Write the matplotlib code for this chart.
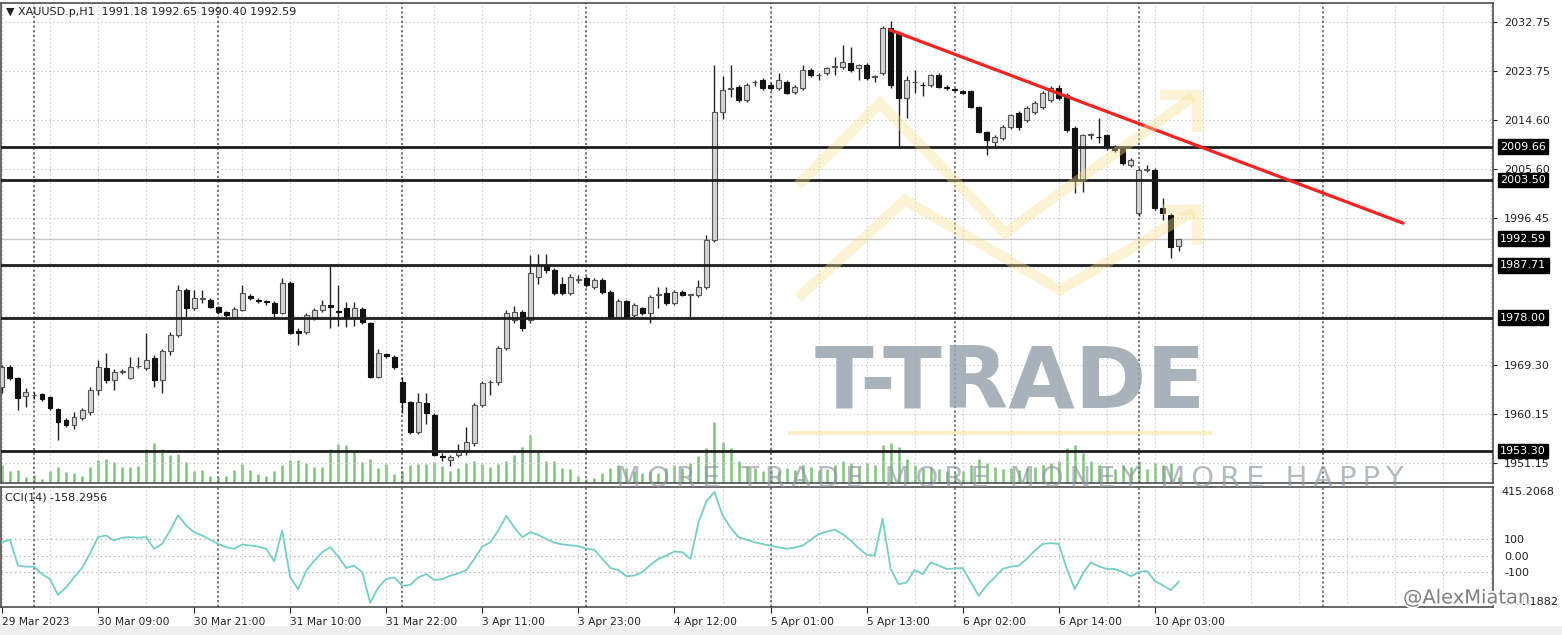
import numpy as np
import matplotlib
matplotlib.use("Agg")
import matplotlib.pyplot as plt
from matplotlib.lines import Line2D
from matplotlib.patches import Rectangle
from matplotlib.transforms import blended_transform_factory
import matplotlib.patheffects as pe

# ---------------- data ----------------
opens = [1965.2, 1968.9, 1966.8, 1963.4, 1963.6, 1963.9, 1963.3, 1961.1, 1959.0, 1958.1,
         1959.4, 1960.5, 1964.6, 1968.7, 1966.5, 1968.0, 1966.9, 1969.0, 1968.7, 1970.5,
         1966.5, 1971.9, 1974.8, 1983.1, 1979.8, 1981.5, 1981.3, 1980.0, 1979.0, 1978.2,
         1979.4, 1982.0, 1981.2, 1981.0, 1980.7, 1978.9, 1984.4, 1975.6, 1975.3, 1978.0,
         1979.4, 1980.3, 1979.2, 1979.8, 1978.1, 1979.6, 1977.0, 1967.0, 1971.2, 1970.7,
         1966.1, 1962.4, 1956.8, 1962.2, 1960.0, 1952.4, 1951.6, 1952.6, 1953.3, 1954.8,
         1961.8, 1966.0, 1966.0, 1972.4, 1977.6, 1979.0, 1977.6, 1985.5, 1987.7, 1986.8,
         1984.2, 1982.6, 1985.0, 1985.3, 1983.7, 1985.0, 1982.8, 1978.2, 1981.0, 1978.5,
         1979.8, 1978.9, 1982.2, 1982.6, 1980.7, 1982.8, 1982.2, 1982.2, 1983.7, 1992.4,
         2016.1, 2020.4, 2020.7, 2018.3, 2021.6, 2022.0, 2021.1, 2020.5, 2021.6, 2019.8,
         2020.5, 2023.9, 2022.9, 2023.3, 2024.4, 2024.4, 2025.2, 2024.2, 2024.8, 2022.6,
         2023.3, 2031.6, 2030.7, 2018.7, 2021.6, 2021.1, 2021.1, 2022.9, 2020.7, 2020.3,
         2020.0, 2020.0, 2017.0, 2012.4, 2010.5, 2011.3, 2013.3, 2015.9, 2014.6, 2016.1,
         2017.0, 2018.3, 2020.5, 2019.2, 2013.1, 2003.5, 2011.8, 2011.5, 2011.8, 2009.6,
         2009.4, 2006.3, 1997.4, 2005.4, 2005.4, 1998.3, 1997.0, 1991.18]
highs = [1969.3, 1969.3, 1967.0, 1965.0, 1964.3, 1964.1, 1963.5, 1961.3, 1959.4, 1960.5,
         1961.3, 1965.2, 1970.2, 1971.5, 1968.5, 1968.5, 1970.8, 1970.8, 1975.2, 1971.0,
         1972.2, 1975.4, 1984.0, 1983.5, 1983.1, 1983.1, 1981.6, 1980.2, 1979.2, 1980.0,
         1984.0, 1982.4, 1981.6, 1981.3, 1981.0, 1985.3, 1984.8, 1976.1, 1978.9, 1979.8,
         1981.3, 1987.7, 1984.0, 1980.9, 1980.9, 1980.0, 1977.2, 1972.2, 1971.4, 1971.0,
         1967.0, 1962.6, 1964.1, 1964.0, 1960.3, 1953.0, 1952.6, 1954.6, 1957.8, 1962.2,
         1966.3, 1966.5, 1972.8, 1979.5, 1980.2, 1979.5, 1989.6, 1989.7, 1989.8, 1987.2,
         1985.5, 1986.0, 1985.9, 1985.7, 1985.4, 1985.3, 1983.1, 1981.5, 1981.3, 1980.7,
         1980.0, 1982.2, 1983.7, 1983.7, 1983.1, 1983.1, 1982.4, 1985.0, 1993.3, 2024.8,
         2022.8, 2024.8, 2021.0, 2021.5, 2022.0, 2022.4, 2021.4, 2023.3, 2022.0, 2021.0,
         2024.8, 2024.2, 2023.3, 2024.4, 2026.3, 2028.5, 2028.1, 2025.0, 2025.1, 2023.0,
         2032.0, 2033.0, 2031.0, 2022.8, 2023.9, 2021.6, 2023.1, 2023.3, 2021.0, 2020.5,
         2020.2, 2020.2, 2017.2, 2012.6, 2011.8, 2013.6, 2015.8, 2016.3, 2017.2, 2018.1,
         2020.0, 2020.9, 2021.1, 2019.6, 2013.5, 2012.0, 2012.2, 2015.0, 2012.1, 2010.0,
         2009.7, 2007.5, 2005.8, 2006.3, 2005.8, 2000.2, 1997.4, 1992.65]
lows = [1964.1, 1966.5, 1960.9, 1961.5, 1963.0, 1962.6, 1960.9, 1955.4, 1957.8, 1957.4,
        1959.0, 1960.0, 1963.7, 1965.9, 1964.6, 1967.6, 1966.6, 1968.7, 1968.3, 1965.2,
        1964.1, 1971.0, 1974.5, 1978.1, 1979.4, 1980.7, 1979.8, 1978.7, 1978.2, 1977.8,
        1979.2, 1981.3, 1980.7, 1980.4, 1978.2, 1978.7, 1975.0, 1973.0, 1975.0, 1977.6,
        1979.0, 1976.1, 1976.5, 1976.3, 1976.5, 1976.8, 1966.8, 1966.8, 1970.5, 1968.5,
        1960.3, 1956.5, 1956.5, 1958.3, 1952.4, 1951.4, 1950.5, 1952.2, 1952.6, 1954.2,
        1961.4, 1963.6, 1965.6, 1972.0, 1977.0, 1975.6, 1977.0, 1984.3, 1986.3, 1982.2,
        1982.2, 1982.2, 1984.4, 1983.7, 1983.3, 1982.4, 1977.8, 1978.0, 1978.0, 1978.2,
        1978.5, 1977.0, 1979.8, 1980.4, 1980.4, 1982.0, 1978.2, 1981.8, 1983.3, 1992.0,
        2014.8, 2018.8, 2018.0, 2018.0, 2020.9, 2020.2, 2020.2, 2020.2, 2019.4, 2019.4,
        2020.2, 2022.6, 2022.0, 2022.9, 2023.0, 2024.0, 2023.5, 2022.0, 2022.0, 2021.6,
        2023.0, 2020.5, 2009.8, 2015.0, 2019.6, 2019.0, 2020.7, 2020.5, 2020.2, 2019.9,
        2019.4, 2016.8, 2012.2, 2008.1, 2009.6, 2010.9, 2013.0, 2012.8, 2014.2, 2015.8,
        2016.6, 2018.0, 2018.3, 2012.4, 2001.1, 2001.3, 2011.0, 2010.3, 2009.0, 2008.6,
        2006.3, 2005.9, 1996.8, 2005.0, 1998.0, 1996.0, 1989.0, 1990.40]
closes = [1968.9, 1966.8, 1963.1, 1964.3, 1963.7, 1962.9, 1961.3, 1958.7, 1958.1, 1959.6,
          1960.9, 1964.6, 1968.9, 1966.5, 1968.0, 1968.1, 1968.9, 1969.1, 1970.2, 1966.5,
          1971.9, 1974.8, 1983.1, 1979.8, 1981.6, 1981.6, 1980.0, 1979.0, 1978.5, 1979.6,
          1982.6, 1981.7, 1981.1, 1980.9, 1978.9, 1984.4, 1975.2, 1975.1, 1978.5, 1979.4,
          1980.4, 1980.0, 1979.0, 1978.1, 1979.8, 1977.2, 1967.0, 1971.4, 1970.9, 1968.9,
          1962.4, 1956.8, 1962.4, 1960.4, 1952.6, 1952.2, 1952.2, 1953.3, 1955.0, 1961.8,
          1965.9, 1966.1, 1972.4, 1978.9, 1979.1, 1976.1, 1986.3, 1987.7, 1986.8, 1982.6,
          1982.6, 1985.5, 1985.1, 1984.0, 1985.0, 1982.8, 1978.0, 1981.0, 1978.2, 1980.4,
          1978.9, 1981.8, 1982.3, 1980.7, 1982.8, 1982.2, 1982.3, 1983.7, 1992.4, 2016.1,
          2020.2, 2020.6, 2018.3, 2021.1, 2021.7, 2020.5, 2020.5, 2022.0, 2019.6, 2020.7,
          2023.9, 2022.9, 2022.9, 2024.2, 2024.5, 2025.3, 2023.9, 2024.8, 2022.4, 2022.7,
          2031.6, 2021.1, 2018.7, 2022.0, 2021.7, 2021.0, 2022.9, 2020.7, 2020.6, 2020.2,
          2019.6, 2017.0, 2012.4, 2010.9, 2011.5, 2013.3, 2015.5, 2013.3, 2016.8, 2017.8,
          2019.6, 2020.5, 2018.7, 2012.8, 2003.5, 2011.8, 2011.9, 2011.4, 2009.6, 2009.0,
          2006.6, 2007.2, 2005.4, 2005.5, 1998.3, 1997.4, 1991.0, 1992.59]
tick_volume_hundreds = [18, 12, 13, 6, 8, 4, 12, 16, 11, 10, 7, 16, 23, 24, 21, 16, 16, 17, 34, 40,
                        34, 28, 29, 21, 12, 13, 7, 6, 7, 13, 19, 13, 9, 7, 12, 18, 23, 23, 20, 16,
                        16, 34, 39, 38, 31, 21, 24, 15, 19, 9, 12, 18, 19, 19, 21, 17, 12, 15, 20, 22,
                        19, 16, 19, 22, 28, 36, 48, 32, 22, 22, 15, 14, 7, 4, 5, 10, 15, 18, 15, 12,
                        10, 12, 10, 15, 18, 15, 20, 27, 35, 61, 41, 35, 22, 17, 15, 12, 14, 12, 15, 13,
                        18, 16, 13, 14, 18, 22, 20, 16, 20, 18, 38, 40, 36, 24, 18, 15, 16, 14, 12, 10,
                        12, 18, 24, 20, 16, 14, 15, 13, 15, 16, 18, 20, 22, 35, 38, 30, 22, 18, 16, 14,
                        18, 16, 22, 14, 20, 18, 20, 6]
cci14 = [81, 96, -61, -67, -67, -112, -142, -238, -193, -132, -75, 12, 112, 122, 92, 108, 112, 108, 112, 41,
         71, 152, 244, 183, 142, 122, 96, 71, 51, 41, 67, 61, 55, 41, -35, 152, -132, -203, -92, -31,
         20, 51, -6, -75, -61, -102, -285, -193, -142, -132, -183, -177, -132, -112, -148, -142, -122, -108, -88, -20,
         55, 81, 152, 240, 170, 112, 142, 125, 100, 78, 68, 62, 58, 42, 35, -20, -75, -88, -125, -120,
         -100, -55, -20, 0, 25, 20, -20, 200, 330, 386, 244, 170, 112, 95, 81, 70, 61, 50, 42, 48,
         60, 95, 130, 145, 157, 130, 92, 45, 5, 0, 224, -80, -173, -163, -87, -112, -41, -60, -81, -78,
         -75, -160, -244, -180, -132, -80, -67, -61, -20, 30, 71, 75, 71, -80, -203, -110, -41, -65, -81, -81,
         -100, -125, -100, -92, -153, -180, -209, -158.2956]

time_label_bars = [0, 12, 24, 36, 48, 60, 72, 84, 96, 108, 120, 132, 144]
time_labels = ["29 Mar 2023", "30 Mar 09:00", "30 Mar 21:00", "31 Mar 10:00", "31 Mar 22:00",
               "3 Apr 11:00", "3 Apr 23:00", "4 Apr 12:00", "5 Apr 01:00", "5 Apr 13:00",
               "6 Apr 02:00", "6 Apr 14:00", "10 Apr 03:00"]
day_start_bars = [4, 27, 50, 73, 96, 119, 142, 165]
price_ticks = [2032.75, 2023.75, 2014.60, 2005.60, 1996.45, 1969.30, 1960.15, 1951.15]
hidden_grid_prices = [1987.30, 1978.30]
level_prices = [2009.66, 2003.50, 1987.71, 1978.00, 1953.30]
bid_price = 1992.59
trend_bars = [110.9, 175.0]
trend_prices = [2031.3, 1995.5]
cci_levels = [100, 0, -100]
cci_max, cci_min = 415.2068, -311.1882
title = "\u25bc XAUUSD.p,H1  1991.18 1992.65 1990.40 1992.59"
cci_title = "CCI(14) -158.2956"

# ---------------- figure ----------------
W, H = 1562, 635
fig = plt.figure(figsize=(W / 100, H / 100), dpi=100)
fig.patch.set_facecolor("white")


def fx(px):
    return px / W


def fy(py):
    return 1 - py / H


ax = fig.add_axes([fx(1), fy(483), fx(1493) - fx(1), fy(3) - fy(483)])
cax = fig.add_axes([fx(1), fy(607), fx(1493) - fx(1), fy(487) - fy(607)])
n = len(closes)
xs = np.arange(n)
XLIM = (-0.12, 186.24)
grid_c = "#c4c4c4"
dot = (0, (1.2, 2.4))

for a in (ax, cax):
    a.set_xlim(*XLIM)
    for s in a.spines.values():
        s.set_color("#404040")
        s.set_linewidth(1.1)
    for g in range(0, 187, 6):
        a.axvline(g, color=grid_c, ls=dot, lw=0.8, zorder=0)
    for d in day_start_bars:
        a.axvline(d, color="#6a6a6a", ls=(0, (1.2, 1.4)), lw=1.3, zorder=0.5)

ax.set_ylim(1947.38, 2036.27)
for p in price_ticks + hidden_grid_prices:
    ax.axhline(p, color=grid_c, ls=dot, lw=0.8, zorder=0)

# volumes (behind candles)
vax = ax.twinx()
vax.set_ylim(0, 480)
vax.vlines(xs, 0, tick_volume_hundreds, color="#7cc47c", lw=1.8)
vax.set_yticks([])
for s in vax.spines.values():
    s.set_visible(False)
vax.set_zorder(ax.get_zorder() - 1)
ax.patch.set_visible(False)
vax.patch.set_visible(False)

# levels
ax.axhline(bid_price, color="#c6c6c6", lw=1.0, zorder=1)
for p in level_prices:
    ax.axhline(p, color="#1e1e1e", lw=2.0, zorder=5)

# candles
o = np.array(opens); c = np.array(closes)
up = c >= o
bodies = np.maximum(np.abs(c - o), 0.12)
bottoms = np.minimum(o, c)
ax.vlines(xs, lows, highs, color="#222222", lw=1.0, zorder=3)
ax.bar(xs, bodies, bottom=bottoms, width=0.62,
       color=np.where(up, "#d4d4d4", "#111111"),
       edgecolor=np.where(up, "#555555", "#111111"), linewidth=0.8, zorder=4)

# trendline
ax.plot(trend_bars, trend_prices, color="#ff2020", lw=2.3, zorder=6, solid_capstyle="round")

# price axis
ax.yaxis.tick_right()
ax.set_yticks(price_ticks)
ax.set_yticklabels([f"{p:.2f}" for p in price_ticks])
ax.tick_params(axis="y", length=3, pad=5, labelsize=8, colors="#222222", width=0.8)
ax.set_xticks([])
tb = blended_transform_factory(ax.transAxes, ax.transData)
for p in level_prices + [bid_price]:
    ax.text(1.0047, p, f"{p:.2f}", transform=tb, ha="left", va="center", fontsize=8,
            color="white", clip_on=False, zorder=10,
            bbox=dict(boxstyle="square,pad=0.22", facecolor="black", edgecolor="black"))

# CCI
cax.set_ylim(cci_min, cci_max)
for lv in cci_levels:
    cax.axhline(lv, color="#b4b4b4", ls=dot, lw=0.9, zorder=0)
cax.plot(xs, cci14, color="#74d0c6", lw=1.3, zorder=3)
cax.yaxis.tick_right()
cax.set_yticks(cci_levels)
cax.set_yticklabels(["100", "0.00", "-100"])
cax.tick_params(axis="y", length=0, pad=8, labelsize=8, colors="#222222")
cax.text(1.0054, 1.0, f"{cci_max:.4f}", transform=cax.transAxes, ha="left", va="top",
         fontsize=8, color="#222222")
cax.text(1.0054, 0.0, f"{cci_min:.4f}", transform=cax.transAxes, ha="left", va="bottom",
         fontsize=8, color="#222222")
cax.set_xticks(time_label_bars)
cax.set_xticklabels(time_labels, ha="left")
cax.tick_params(axis="x", length=4, pad=3, labelsize=7.7, colors="#222222", width=0.8)

fig.text(fx(6), fy(12), title, fontsize=8, color="#222222", va="center", ha="left")
fig.text(fx(5), fy(497), cci_title, fontsize=8, color="#222222", va="center", ha="left")

# ---------------- watermark decorations ----------------
logo_c = "#f8e08e"


def poly(pts):
    xp = [fx(p[0]) for p in pts]
    yp = [fy(p[1]) for p in pts]
    fig.add_artist(Line2D(xp, yp, transform=fig.transFigure, color=logo_c, alpha=0.38,
                          lw=7.5, solid_joinstyle="miter", solid_capstyle="butt", zorder=20))


poly([(798, 185), (880, 103), (1005, 233), (1193, 97)])
poly([(1160, 95), (1197, 95), (1197, 132)])
poly([(798, 298), (905, 200), (1060, 290), (1193, 212)])
poly([(1163, 210), (1197, 210), (1197, 245)])
fig.add_artist(Line2D([fx(790), fx(1210)], [fy(433), fy(433)], transform=fig.transFigure,
                      color=logo_c, alpha=0.5, lw=3, zorder=20))

fig.text(fx(1010), fy(408), "T-TRADE", fontsize=62, fontweight="bold", color="#9aa5ae",
         alpha=0.85, ha="center", va="baseline", zorder=21)
fig.text(fx(1010), fy(487), "\u2009".join("MORE TRADE MORE MONEY MORE HAPPY"), fontsize=21,
         color="#8e989f", alpha=0.65, ha="center", va="baseline", zorder=21)
fig.text(fx(1403), fy(598), "@AlexMiatan", fontsize=14, color="#808080", ha="left", va="center",
         zorder=22, path_effects=[pe.withStroke(linewidth=2.5, foreground="white")])

fig.add_artist(Rectangle((0, 0), 1, 9 / H, transform=fig.transFigure, facecolor="#efefef",
                         edgecolor="none", zorder=-1))

fig.savefig("out.png", dpi=100, facecolor="white")
